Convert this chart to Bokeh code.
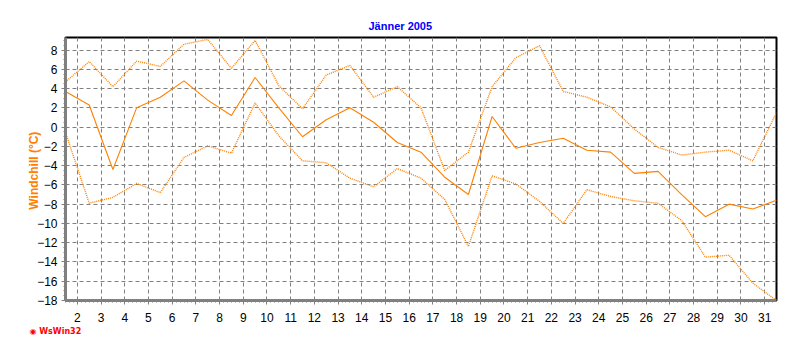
import numpy as np
from bokeh.plotting import figure
from bokeh.models import Range1d, FixedTicker, SingleIntervalTicker, Title
from bokeh.embed import file_html
from bokeh.resources import INLINE

# Data: Windchill January 2005 (daily values, plotted at noon)
day = list(range(1, 32))
wc_max = [4.7, 6.8, 4.2, 6.85, 6.3, 8.6, 9.1, 6.1, 9.0, 4.3, 1.9, 5.4, 6.4, 3.1, 4.2,
          2.0, -4.5, -2.6, 4.2, 7.2, 8.45, 3.7, 3.1, 2.1, -0.2, -2.1, -2.9, -2.6, -2.4, -3.5, 1.5]
wc_mean = [3.7, 2.3, -4.4, 2.0, 3.1, 4.8, 2.8, 1.2, 5.15, 2.0, -1.0, 0.76, 2.0, 0.5, -1.6,
           -2.6, -5.2, -7.0, 1.1, -2.2, -1.6, -1.15, -2.4, -2.6, -4.8, -4.6, -7.0, -9.3, -8.0, -8.5, -7.6]
wc_min = [-0.55, -7.9, -7.3, -5.85, -6.8, -3.15, -1.95, -2.7, 2.5, -0.9, -3.5, -3.7, -5.3, -6.2, -4.3,
          -5.3, -7.5, -12.4, -5.05, -5.9, -7.7, -10.0, -6.5, -7.2, -7.65, -7.9, -9.7, -13.5, -13.3, -16.2, -18.0]
x_ticks = list(range(2, 32))

x = np.array(day) + 0.5  # noon of each day

ORANGE = "#FF8000"
GRID = "#808080"

p = figure(width=800, height=350, output_backend="svg", toolbar_location=None,
           x_range=Range1d(1.5, 31.5), y_range=Range1d(-18, 9.3),
           min_border_left=65, min_border_right=24, min_border_top=37, min_border_bottom=50,
           title="Jänner 2005")
p.background_fill_color = "white"
p.border_fill_color = "white"
p.outline_line_color = "black"
p.outline_line_width = 2

p.title.align = "left"
p.title.offset = 303
p.title.text_color = "#0000FF"
p.title.text_font = "Liberation Sans"
p.title.text_font_size = "11px"
p.title.text_font_style = "bold"
p.title.standoff = 12

p.line(x, wc_max, line_color=ORANGE, line_width=1.4, line_dash="1 1")
p.line(x, wc_mean, line_color=ORANGE, line_width=1.1)
p.line(x, wc_min, line_color=ORANGE, line_width=1.4, line_dash="1 1")

xt = FixedTicker(ticks=x_ticks, minor_ticks=list(np.arange(1.5, 31.51, 1 / 6)))
p.xaxis.ticker = xt
p.xgrid.ticker = FixedTicker(ticks=x_ticks)
p.yaxis.ticker = SingleIntervalTicker(interval=2, num_minor_ticks=4)

for ax in (p.xaxis[0], p.yaxis[0]):
    ax.axis_line_color = GRID
    ax.axis_line_width = 3
    ax.major_tick_line_color = GRID
    ax.minor_tick_line_color = GRID
    ax.major_tick_in = 0
    ax.minor_tick_in = 0
    ax.major_tick_out = 4
    ax.minor_tick_out = 2
    ax.major_label_text_font = "Liberation Sans"
    ax.major_label_text_font_size = "12px"
    ax.major_label_text_color = "black"

p.xaxis.major_label_standoff = 8
p.yaxis.major_label_standoff = 4
p.yaxis.axis_label = "Windchill  (°C)"
p.yaxis.axis_label_text_color = ORANGE
p.yaxis.axis_label_text_font = "Liberation Sans"
p.yaxis.axis_label_text_font_size = "12px"
p.yaxis.axis_label_text_font_style = "bold"
p.yaxis.axis_label_standoff = -7

for g in (p.xgrid[0], p.ygrid[0]):
    g.grid_line_color = GRID
    g.grid_line_dash = "4 3"
    g.grid_line_width = 1

p.add_layout(Title(text="◉ WsWin32", text_color="red", text_font="DejaVu Sans",
                   text_font_size="8px", text_font_style="bold", align="left",
                   offset=-36, standoff=0), "below")

open("out.html", "w").write(file_html(p, INLINE))
